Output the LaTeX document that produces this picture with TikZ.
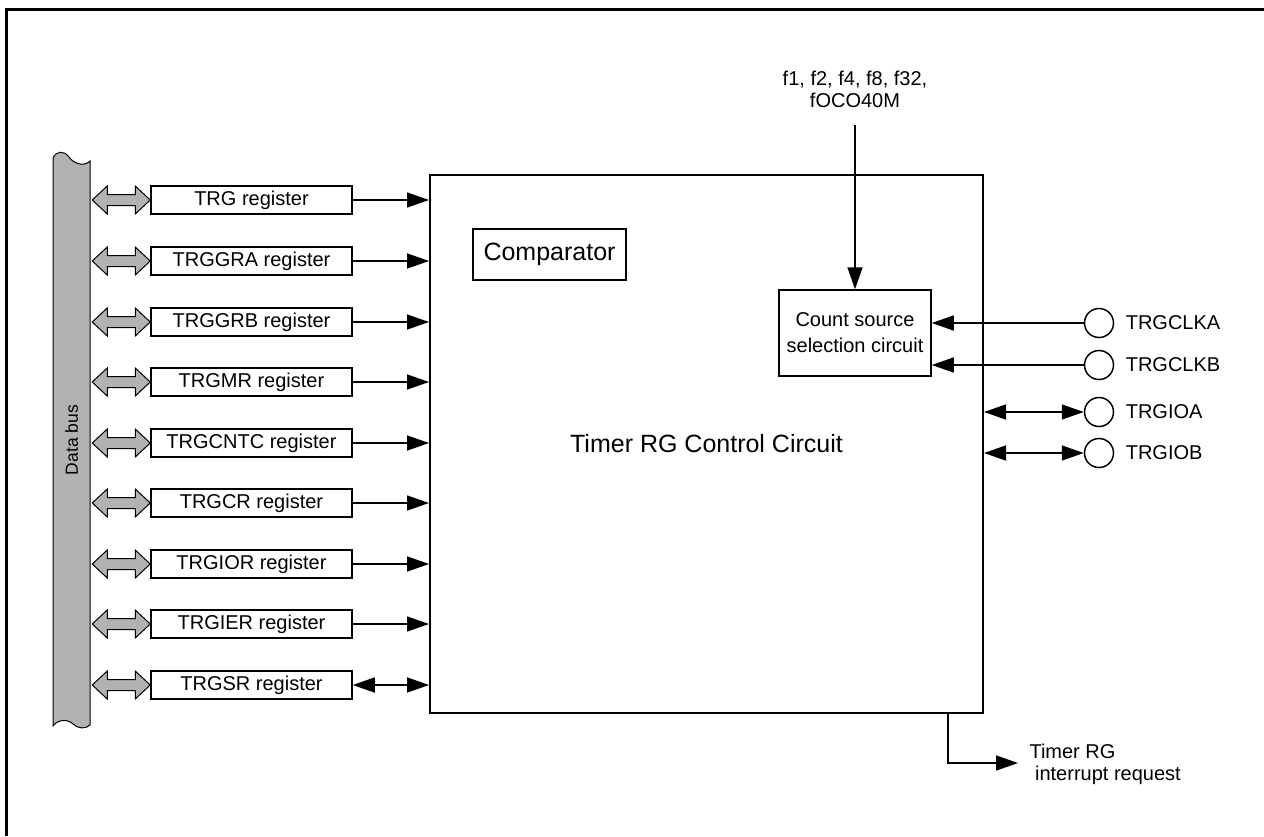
\documentclass[tikz,border=0pt]{standalone}
\usepackage{fontspec}
\setmainfont{Liberation Sans}
\usetikzlibrary{arrows.meta,calc}
\newcommand\fs[1]{\fontsize{#1}{#1}\selectfont}
\tikzset{
  ln/.style={line width=1.5pt},
  arr/.style={ln,-{Triangle[length=22pt,width=15pt]}},
  barr/.style={ln,{Triangle[length=22pt,width=15pt]}-{Triangle[length=22pt,width=15pt]}},
  regbox/.style={draw,line width=1.5pt,minimum width=201pt,minimum height=28pt,inner sep=0pt,font=\fs{20}},
  busfill/.style={draw,line width=1pt,fill=black!30},
  pin/.style={draw,circle,line width=1.5pt,minimum size=29pt,inner sep=0pt},
  pinlab/.style={font=\fs{20},label distance=8pt}
}
\newcommand\busarrow[1]{%
  \draw[busfill] ($(#1.west)+(-58,0)$) -- ++(15,-14) -- ++(0,8.5) -- ++(28,0) -- ++(0,-8.5)
    -- ++(15,14) -- ++(-15,14) -- ++(0,-8.5) -- ++(-28,0) -- ++(0,8.5) -- cycle;}
\begin{document}
\begin{tikzpicture}[x=1pt,y=-1pt]
\useasboundingbox (0,0) rectangle (1264,836);
% frame
\draw[line width=3pt] (6,836) -- (6,9) -- (1264,9);
% data bus
\draw[busfill] (53,158) .. controls (56,151) and (64,150) .. (69,157)
  .. controls (74,164) and (84,167) .. (90,161) -- (90,725)
  .. controls (86,729) and (78,729) .. (73,724)
  .. controls (68,719) and (58,719) .. (53,726) -- cycle;
\node[rotate=90,font=\fs{17.5}] (bus) at (71.5,440) {Data bus};
% main box
\node[draw,line width=2pt,minimum width=553pt,minimum height=538pt,inner sep=0pt,font=\fs{25}]
  (main) at (706.5,444) {Timer RG Control Circuit};
\node[draw,line width=1.5pt,minimum width=153pt,minimum height=51pt,inner sep=0pt,font=\fs{25}]
  (cmp) at (549.5,254.5) {Comparator};
\node[draw,line width=1.5pt,minimum width=152pt,minimum height=86pt,inner sep=0pt,align=center,
  font=\fontsize{20}{26}\selectfont] (cnt) at (855,333) {Count source\\selection circuit};
% registers
\foreach \nm/\txt/\yy in {r0/TRG/200,r1/TRGGRA/261,r2/TRGGRB/322,r3/TRGMR/382,r4/TRGCNTC/443,r5/TRGCR/503,r6/TRGIOR/564,r7/TRGIER/624,r8/TRGSR/685}{
  \node[regbox] (\nm) at (251.5,\yy) {\txt{} register};
  \busarrow{\nm}
}
\foreach \nm in {r0,r1,r2,r3,r4,r5,r6,r7}{
  \draw[arr] (\nm.east) -- (\nm.east -| main.west);
}
\draw[barr] (r8.east) -- (r8.east -| main.west);
% clock input
\node[align=center,font=\fontsize{20}{22}\selectfont] (flab) at (855,89) {f1, f2, f4, f8, f32,\\fOCO40M};
\coordinate (ftop) at (855,125);
\draw[arr] (ftop) -- (cnt.north);
% pins
\node[pin,label={[pinlab]right:TRGCLKA}] (clka) at (1099,323) {};
\node[pin,label={[pinlab]right:TRGCLKB}] (clkb) at (1099,365) {};
\node[pin,label={[pinlab]right:TRGIOA}] (ioa) at (1099,412) {};
\node[pin,label={[pinlab]right:TRGIOB}] (iob) at (1099,453) {};
\draw[arr] (clka.west) -- (clka.west -| cnt.east);
\draw[arr] (clkb.west) -- (clkb.west -| cnt.east);
\draw[barr] (ioa.west -| main.east) -- (ioa.west);
\draw[barr] (iob.west -| main.east) -- (iob.west);
% interrupt
\coordinate (ib) at (948,713);
\coordinate (irq) at (1018,763);
\draw[arr] (ib) |- (irq);
\node[anchor=west,align=left,font=\fontsize{20}{22}\selectfont] (irqlab) at (1026,764) {Timer RG\\\ interrupt request};
\end{tikzpicture}
\end{document}
